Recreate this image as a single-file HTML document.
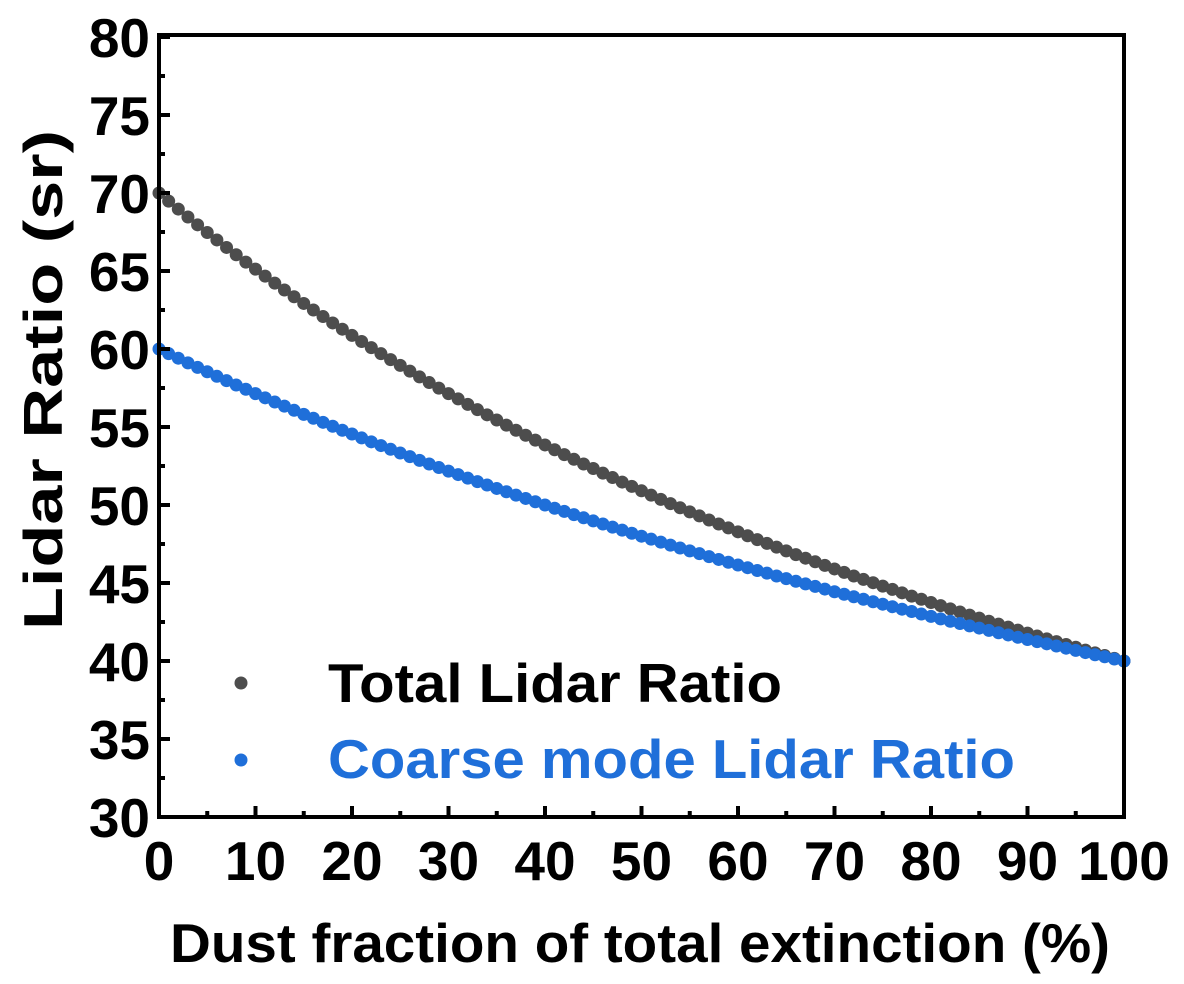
<!DOCTYPE html>
<html><head><meta charset="utf-8"><style>
html,body{margin:0;padding:0;background:#fff}
svg{display:block;font-family:"Liberation Sans",Arial,sans-serif;font-weight:bold}
</style></head><body>
<svg id="chart" width="1184" height="984" viewBox="0 0 1184 984" xmlns="http://www.w3.org/2000/svg">
<g id="plot"></g>
</svg>
<script>
const xPercent = [];
for (let i = 0; i <= 100; i++) xPercent.push(i);
const totalLR = [70,69.48,68.97,68.46,67.96,67.47,66.99,66.51,66.04,65.57,65.12,64.67,64.22,63.78,63.35,62.92,62.50,62.08,61.67,61.27,60.87,60.48,60.09,59.70,59.32,58.95,58.58,58.21,57.85,57.49,57.14,56.80,56.45,56.11,55.78,55.45,55.12,54.79,54.47,54.16,53.85,53.54,53.23,52.93,52.63,52.34,52.04,51.76,51.47,51.19,50.91,50.63,50.36,50.09,49.82,49.56,49.30,49.04,48.78,48.53,48.28,48.03,47.78,47.54,47.30,47.06,46.82,46.59,46.36,46.13,45.90,45.68,45.45,45.23,45.02,44.80,44.59,44.37,44.16,43.96,43.75,43.55,43.34,43.14,42.94,42.75,42.55,42.36,42.17,41.98,41.79,41.60,41.42,41.24,41.06,40.88,40.70,40.52,40.35,40.17,40];
const coarseLR = [60,59.70,59.41,59.11,58.82,58.54,58.25,57.97,57.69,57.42,57.14,56.87,56.60,56.34,56.07,55.81,55.56,55.30,55.05,54.79,54.55,54.30,54.05,53.81,53.57,53.33,53.10,52.86,52.63,52.40,52.17,51.95,51.72,51.50,51.28,51.06,50.85,50.63,50.42,50.21,50,49.79,49.59,49.38,49.18,48.98,48.78,48.58,48.39,48.19,48,47.81,47.62,47.43,47.24,47.06,46.88,46.69,46.51,46.33,46.15,45.98,45.80,45.63,45.45,45.28,45.11,44.94,44.78,44.61,44.44,44.28,44.12,43.96,43.80,43.64,43.48,43.32,43.17,43.01,42.86,42.70,42.55,42.40,42.25,42.11,41.96,41.81,41.67,41.52,41.38,41.24,41.10,40.96,40.82,40.68,40.54,40.40,40.27,40.13,40];
const xTicks = [0,10,20,30,40,50,60,70,80,90,100];
const yTicks = [30,35,40,45,50,55,60,65,70,75,80];

const NS = "http://www.w3.org/2000/svg";
const X0 = 159, X1 = 1124, Y0 = 817, Y1 = 37;
const xs = v => X0 + (v - 0) / 100 * (X1 - X0);
const ys = v => Y0 - (v - 30) / 50 * (Y0 - Y1);
const g = document.getElementById('plot');
function mk(tag, attrs, parent) {
  const e = document.createElementNS(NS, tag);
  for (const k in attrs) e.setAttribute(k, attrs[k]);
  (parent || g).appendChild(e);
  return e;
}

function series(vals, color, name) {
  const sg = mk('g', {});
  
  
  vals.forEach((v, i) => {
    const c = mk('circle', {cx: xs(xPercent[i]), cy: ys(v), r: 6.5, fill: color}, sg);
    
    
  });
}
series(totalLR, '#4d4d4d', 'total-lidar-ratio-series');
series(coarseLR, '#1f6fd9', 'coarse-lidar-ratio-series');

const fr = mk('rect', {x: X0, y: Y1 - 2, width: X1 - X0, height: Y0 - Y1 + 2, fill: 'none', stroke: '#000', 'stroke-width': 4});



xTicks.forEach(t => {
  const l = mk('line', {x1: xs(t), x2: xs(t), y1: Y0, y2: Y0 - 11, stroke: '#000', 'stroke-width': 4});
  
  
  if (t < 100) {
    const m = mk('line', {x1: xs(t + 5), x2: xs(t + 5), y1: Y0, y2: Y0 - 6, stroke: '#000', 'stroke-width': 4});
    
    
  }
  const tx = mk('text', {x: xs(t), y: 880, 'text-anchor': 'middle', 'font-size': 55, fill: '#000'});
  tx.textContent = t;
  
  
});
yTicks.forEach(t => {
  const l = mk('line', {x1: X0, x2: X0 + 11, y1: ys(t), y2: ys(t), stroke: '#000', 'stroke-width': 4});
  
  
  if (t < 80) {
    const m = mk('line', {x1: X0, x2: X0 + 6, y1: ys(t + 2.5), y2: ys(t + 2.5), stroke: '#000', 'stroke-width': 4});
    
    
  }
  const tx = mk('text', {x: 150, y: ys(t) + 20, 'text-anchor': 'end', 'font-size': 55, fill: '#000'});
  tx.textContent = t;
  
  
});

const xt = mk('text', {x: 170, y: 962, 'font-size': 55, fill: '#000', textLength: 940, lengthAdjust: 'spacingAndGlyphs'});
xt.textContent = 'Dust fraction of total extinction (%)';


const yt = mk('text', {x: 0, y: 0, 'font-size': 55, fill: '#000', textLength: 500, lengthAdjust: 'spacingAndGlyphs', transform: 'translate(62,630) rotate(-90)'});
yt.textContent = 'Lidar Ratio (sr)';



const lg = mk('g', {});


const d1 = mk('circle', {cx: 241, cy: 683, r: 6.5, fill: '#4d4d4d'}, lg);


const t1 = mk('text', {x: 328, y: 702, 'font-size': 55, fill: '#000', textLength: 454, lengthAdjust: 'spacingAndGlyphs'}, lg);
t1.textContent = 'Total Lidar Ratio';


const d2 = mk('circle', {cx: 241, cy: 760, r: 6.5, fill: '#1f6fd9'}, lg);


const t2 = mk('text', {x: 328, y: 778, 'font-size': 55, fill: '#1f6fd9', textLength: 687, lengthAdjust: 'spacingAndGlyphs'}, lg);
t2.textContent = 'Coarse mode Lidar Ratio';


</script>
</body></html>
